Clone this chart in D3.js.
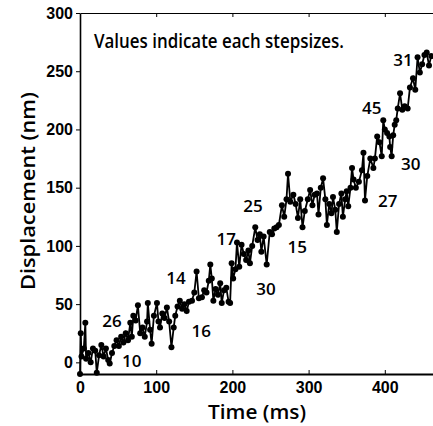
<!DOCTYPE html>
<html lang="en">
<head>
<meta charset="UTF-8">
<title>Displacement vs time</title>
<script src="https://cdnjs.cloudflare.com/ajax/libs/d3/7.8.5/d3.min.js"></script>
<style>
    body { margin: 0; background: #fff; }
    svg { display: block; font-family: "Open Sans", "DejaVu Sans", sans-serif; }
    .tick text { font-size: 16px; font-weight: 700; fill: #000; }
    .domain, .tick line { stroke: #000; }
</style>
</head>
<body>
<svg id="chart"></svg>
<script>
// time points (ms)
const timeMs = [0,1,2,5,7,8,11,14,17,20,22,25,28,31,34,37,39,42,45,48,51,54,57,60,63,66,68,70,73,76,
    79,82,85,88,89,92,94,97,101,103,105,108,111,114,117,120,123,125,128,131,134,137,140,143,147,150,153,156,160,163,
    166,169,171,173,175,178,181,184,186,189,192,195,197,199,201,204,206,209,212,215,218,221,223,226,230,233,236,238,241,245,
    249,252,255,258,261,265,268,271,273,276,280,283,286,289,292,295,299,302,305,308,311,313,316,319,322,324,327,330,332,335,
    337,340,343,345,348,350,352,355,357,359,362,366,370,372,374,377,381,385,387,390,393,396,398,400,403,406,407,409,411,413,
    415,417,420,423,426,430,433,437,440,443,446,449,452,455,458,461];
// displacement (nm)
const displacement = [-10,25,5,12,34,3,8,0,12,10,-9,6,15,5,12,2,-1,8,14,19,14,22,17,25,19,34,22,40,36,49,
    25,30,22,35,51,28,16,40,51,35,30,42,38,47,35,13,30,40,48,53,46,50,44,52,53,60,78,55,56,62,
    60,70,84,72,53,63,58,68,51,62,64,52,51,85,72,80,103,82,101,93,88,96,85,100,116,105,110,95,108,84,
    112,110,115,116,118,135,125,140,162,138,144,136,124,140,116,130,140,148,135,144,145,127,150,158,140,118,136,128,142,131,
    112,136,145,125,140,147,134,150,167,157,150,155,165,180,139,160,175,167,175,194,189,177,208,200,197,194,185,177,195,204,
    208,218,231,217,220,218,236,244,234,262,249,256,264,266,255,263];

// step size annotations
const stepLabels = ["26","10","14","16","17","30","25","15","27","30","45","31"];
const stepLabelT = [42,68,126,159,192,244,227,285,404,434,383,424];
const stepLabelD = [34,0,71,26,105,62,133,98,137,169,217,258];

const xTicks = [0,100,200,300,400];
const yTicks = [0,50,100,150,200,250,300];

const width = 433, height = 426;
const svg = d3.select("#chart").attr("width", width).attr("height", height);

const x = d3.scaleLinear().domain([0, 465]).range([80, 80 + 465 * 0.762]);
const y = d3.scaleLinear().domain([-10, 300]).range([374, 13]);

// axes
svg.append("g")
    .attr("transform", "translate(0,374)")
    .call(d3.axisBottom(x).tickValues(xTicks).tickSize(-4).tickSizeOuter(0).tickPadding(8))
    .call(g => g.select(".domain").attr("stroke-width", 2));

svg.append("g")
    .attr("transform", "translate(0,13)")
    .call(d3.axisTop(x).tickValues(xTicks.slice(1)).tickSize(-4).tickSizeOuter(0).tickFormat(""))
    .call(g => g.select(".domain").attr("stroke-width", 1.2));

svg.append("g")
    .attr("transform", "translate(80,0)")
    .call(d3.axisLeft(y).tickValues(yTicks).tickSize(4).tickSizeOuter(0).tickPadding(3))
    .call(g => g.select(".domain").attr("stroke-width", 1.6));

// trace
const pts = timeMs.map((t, i) => [t, displacement[i]]);
const line = d3.line().x(d => x(d[0])).y(d => y(d[1]));

svg.append("path")
    .datum(pts)
    .attr("fill", "none")
    .attr("stroke", "#000")
    .attr("stroke-width", 1.8)
    .attr("d", line);

svg.append("g")
    .selectAll("circle")
    .data(pts)
    .join("circle")
    .attr("cx", d => x(d[0]))
    .attr("cy", d => y(d[1]))
    .attr("r", 3)
    .attr("fill", "#000");

// step labels
svg.append("g")
    .selectAll("text")
    .data(stepLabels)
    .join("text")
    .attr("x", (d, i) => x(stepLabelT[i]))
    .attr("y", (d, i) => y(stepLabelD[i]))
    .attr("text-anchor", "middle")
    .attr("dominant-baseline", "middle")
    .attr("font-size", 17)
    .attr("font-weight", 600)
    .text(d => d);

// note
svg.append("text")
    .attr("x", 94)
    .attr("y", 48)
    .attr("font-size", 19)
    .attr("font-weight", 600)
    .attr("textLength", 250)
    .attr("lengthAdjust", "spacingAndGlyphs")
    .text("Values indicate each stepsizes.");

// axis titles
svg.append("text")
    .attr("x", 257)
    .attr("y", 419)
    .attr("text-anchor", "middle")
    .attr("font-size", 20)
    .attr("font-weight", 600)
    .attr("textLength", 98)
    .attr("lengthAdjust", "spacingAndGlyphs")
    .text("Time (ms)");

svg.append("text")
    .attr("transform", "translate(35,191) rotate(-90)")
    .attr("text-anchor", "middle")
    .attr("font-size", 20)
    .attr("font-weight", 600)
    .attr("textLength", 198)
    .attr("lengthAdjust", "spacingAndGlyphs")
    .text("Displacement (nm)");
</script>
</body>
</html>
